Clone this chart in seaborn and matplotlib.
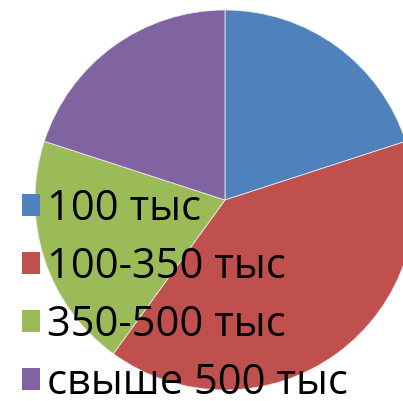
import matplotlib
matplotlib.use("Agg")
import matplotlib.pyplot as plt
import matplotlib.patches as mpatches
import seaborn as sns

categories = ["100 тыс", "100-350 тыс", "350-500 тыс", "свыше 500 тыс"]
values = [20, 40, 20, 20]
colors = ["#4F81BD", "#C0504D", "#9BBB59", "#8064A2"]

sns.set_theme(style="white")
plt.rcParams["font.family"] = ["Open Sans", "DejaVu Sans"]

W, H = 403, 401
fig = plt.figure(figsize=(W / 100, H / 100), dpi=100)
ax = fig.add_axes([0, 0, 1, 1])
cx, cy, r = 225, 200, 190
ax.pie(values, colors=colors, startangle=90, counterclock=False,
       wedgeprops=dict(edgecolor="#e8e8e8", linewidth=0.6))
ax.set_aspect("auto")
ax.set_xlim(-cx / r, (W - cx) / r)
ax.set_ylim(-(H - cy) / r, cy / r)
ax.axis("off")

fs = 30
fpx = fs / 72 * 100
handles = [mpatches.Patch(facecolor=c, edgecolor="none") for c in colors]
leg = fig.legend(handles, categories, loc="upper left",
                 bbox_to_anchor=(22 / W, 1 - 188 / H),
                 bbox_transform=fig.transFigure,
                 frameon=False, fontsize=fs,
                 handlelength=18 / fpx, handleheight=18 / fpx,
                 handletextpad=7 / fpx, labelspacing=0.38,
                 borderpad=0, borderaxespad=0)
for t in leg.get_texts():
    t.set_color("black")

fig.savefig("out.png", dpi=100)
